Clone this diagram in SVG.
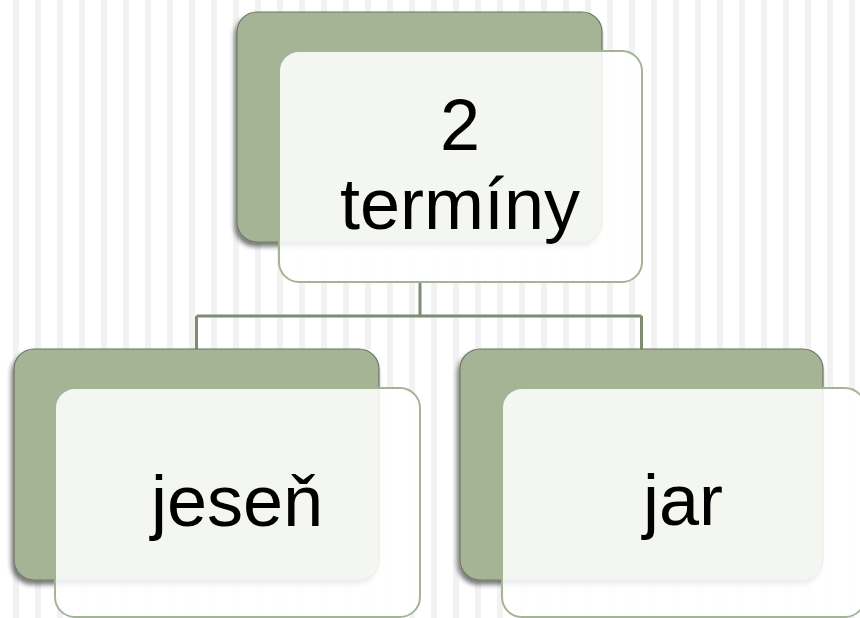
<svg xmlns="http://www.w3.org/2000/svg" width="860" height="618" viewBox="0 0 860 618">
<defs>
<pattern id="stripes" x="13" y="0" width="22" height="618" patternUnits="userSpaceOnUse">
<rect x="0" y="0" width="6" height="618" fill="#f2f2f2"/>
</pattern>
<filter id="sh" x="-10%" y="-10%" width="120%" height="125%">
<feGaussianBlur in="SourceAlpha" stdDeviation="2.5"/>
<feOffset dx="-2" dy="4" result="b"/>
<feComponentTransfer><feFuncA type="linear" slope="0.55"/></feComponentTransfer>
<feMerge><feMergeNode/><feMergeNode in="SourceGraphic"/></feMerge>
</filter>
</defs>
<style>
.back{fill:#a5b495;stroke:#6c7663;stroke-width:1.2}
.front{fill:#ffffff;fill-opacity:0.88;stroke:#a5b495;stroke-width:2}
.lbl{font-family:"Liberation Sans",Arial,sans-serif;font-size:72px;fill:#000;text-anchor:middle}
.conn{fill:none;stroke:#7e8c6f;stroke-width:3}
</style>
<rect width="860" height="618" fill="#ffffff"/>
<rect width="860" height="618" fill="url(#stripes)"/>
<g id="connectors">
<path class="conn" d="M420 282 V316 M196.5 316 H641.5 M196.5 316 V349 M641.5 316 V349"/>
</g>
<g id="node-top">
<rect class="back" x="237" y="12" width="365" height="230" rx="20" filter="url(#sh)"/>
<rect class="front" x="279" y="51" width="363" height="231" rx="20"/>
<text class="lbl" x="460" y="150">2</text>
<text class="lbl" x="460" y="229">termíny</text>
</g>
<g id="node-left">
<rect class="back" x="14" y="349" width="365" height="231" rx="20" filter="url(#sh)"/>
<rect class="front" x="55" y="388" width="365" height="229" rx="20"/>
<text class="lbl" x="237" y="526">jeseň</text>
</g>
<g id="node-right">
<rect class="back" x="460" y="349" width="363" height="231" rx="20" filter="url(#sh)"/>
<rect class="front" x="502" y="388" width="363" height="229" rx="20"/>
<text class="lbl" x="683" y="525">jar</text>
</g>
</svg>
